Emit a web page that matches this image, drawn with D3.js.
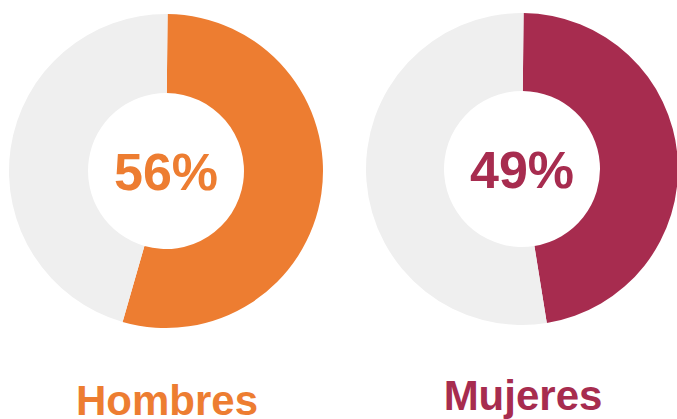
<!DOCTYPE html>
<html>
<head>
<meta charset="utf-8">
<script src="https://cdn.jsdelivr.net/npm/d3@7"></script>
<style>
  body { margin: 0; background: #fff; }
  text { font-family: "Liberation Sans", Arial, sans-serif; font-weight: bold; }
</style>
</head>
<body>
<div id="chart"></div>
<script>
// groups, labels and arc shares
const groups = ['Hombres', 'Mujeres'];
const pctLabels = ['56%', '49%'];
const shares = [0.543, 0.473];
const colors = ['#ED7D31', '#A72C4F'];

const w = 677;
const h = 419;

const centers = [
  { x: 166, y: 171, r: 157 },
  { x: 522, y: 169, r: 156 }
];

const svg = d3.select('#chart')
  .append('svg')
  .attr('width', w)
  .attr('height', h);

const pie = d3.pie()
  .sort(null)
  .startAngle(0.01)
  .endAngle(0.01 + 2 * Math.PI)
  .value(d => d);

groups.forEach((g, i) => {
  const c = centers[i];
  const arc = d3.arc()
    .innerRadius(78)
    .outerRadius(c.r);

  const grp = svg.append('g')
    .attr('transform', `translate(${c.x},${c.y})`);

  grp.selectAll('path')
    .data(pie([shares[i], 1 - shares[i]]))
    .enter()
    .append('path')
    .attr('d', arc)
    .attr('fill', (d, j) => j === 0 ? colors[i] : '#EFEFEF');

  grp.append('text')
    .attr('text-anchor', 'middle')
    .attr('y', 19)
    .attr('font-size', 52)
    .attr('fill', colors[i])
    .text(pctLabels[i]);

  svg.append('text')
    .attr('text-anchor', 'middle')
    .attr('x', c.x + 1)
    .attr('y', i === 0 ? 415 : 410)
    .attr('font-size', 42)
    .attr('fill', colors[i])
    .text(g);
});
</script>
</body>
</html>
